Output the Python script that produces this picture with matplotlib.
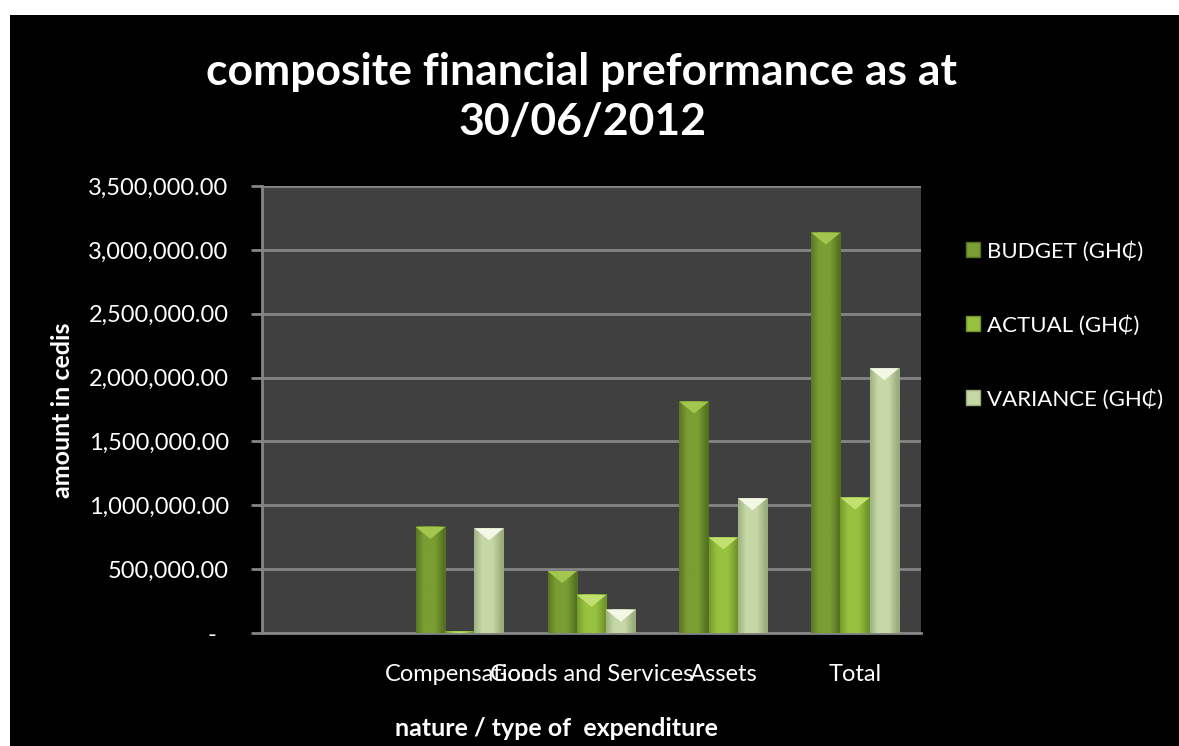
import numpy as np
import matplotlib
matplotlib.use("Agg")
import matplotlib.pyplot as plt
from matplotlib.patches import Rectangle, Polygon, Patch
from matplotlib.ticker import FuncFormatter, MultipleLocator

plt.rcParams['font.family'] = ['Lato', 'DejaVu Sans']

categories = ["", "Compensation", "Goods and Services", "Assets", "Total"]
series = ["BUDGET (GH\u20b5)", "ACTUAL (GH\u20b5)", "VARIANCE (GH\u20b5)"]
budget = [0, 830000, 485000, 1812000, 3135000]
actual = [0, 10000, 298000, 748000, 1060000]
variance = [0, 820000, 182000, 1055000, 2073000]

# base colour, edge colour, bevel highlight
colors = [("#7a9e33", "#55701f", "#a3c64f"),
          ("#97c23f", "#6f9428", "#c2e070"),
          ("#c6d8a6", "#9aab7c", "#f3f8e6")]

W, H = 1179, 746
fig = plt.figure(figsize=(W / 100, H / 100), dpi=100, facecolor="white")
fig.patches.append(Rectangle((10 / W, 0), 1, (H - 15) / H, transform=fig.transFigure,
                             facecolor="black", edgecolor="none", zorder=-5))

ax = fig.add_axes([262 / W, 113 / H, 659 / W, 447 / H])
ax.set_facecolor("#404040")

x = np.arange(len(categories))
w = 1 / 4.5
ymax = 3500000
px = ymax / 447  # data units per pixel vertically

for i, (vals, (base, edge, hi)) in enumerate(zip([budget, actual, variance], colors)):
    bars = ax.bar(x + (i - 1) * w, vals, w, color=base, edgecolor="none", zorder=2)
    b = np.array(matplotlib.colors.to_rgb(base))
    e = np.array(matplotlib.colors.to_rgb(edge))
    t = np.linspace(0, 1, 40)
    prof = np.clip((1 - np.abs(t - 0.45) * 2) * 1.6, 0, 1)
    grad = e[None, :] * (1 - prof[:, None]) + b[None, :] * prof[:, None]
    for r in bars:
        h = r.get_height()
        if h <= 0:
            continue
        x0, x1 = r.get_x(), r.get_x() + r.get_width()
        ax.imshow(grad[None, :, :], extent=[x0, x1, 0, h], aspect="auto",
                  interpolation="bilinear", zorder=3)
        d = min(12 * px, h)
        ax.add_patch(Polygon([(x0, h), (x1, h), ((x0 + x1) / 2, h - d)],
                             closed=True, facecolor=hi, edgecolor="none", zorder=4))

ax.set_xlim(-0.5, len(categories) - 0.5)
ax.set_ylim(0, ymax)
ax.yaxis.set_major_locator(MultipleLocator(500000))
ax.yaxis.set_major_formatter(FuncFormatter(lambda v, p: "-  " if v == 0 else f"{v:,.2f}"))
ax.set_xticks(x)
ax.set_xticklabels(categories)

ax.grid(axis="y", color="#858585", linewidth=2, zorder=1)
ax.set_axisbelow(True)
for s in ["top", "right"]:
    ax.spines[s].set_visible(False)
for s in ["left", "bottom"]:
    ax.spines[s].set_color("#858585")
    ax.spines[s].set_linewidth(2)
ax.tick_params(axis="y", colors="#858585", length=8, width=2, pad=16, labelsize=17,
               labelcolor="white")
ax.tick_params(axis="x", length=0, pad=22, labelsize=17, labelcolor="white")

fig.text(63 / W, 1 - 410 / H, "amount in cedis", rotation=90, ha="center", va="center",
         color="white", fontsize=18, fontweight="bold")
fig.text(556 / W, 1 - 728 / H, "nature / type of  expenditure", ha="center", va="center",
         color="white", fontsize=18, fontweight="bold")
fig.text(582 / W, 1 - 97 / H, "composite financial preformance as at\n30/06/2012",
         ha="center", va="center", color="white", fontsize=32, fontweight="bold",
         linespacing=1.3)

handles = [Patch(facecolor=c[0], edgecolor=c[1]) for c in colors]
fig.legend(handles, series, loc="upper left", bbox_to_anchor=(966 / W, 1 - 241 / H),
           frameon=False, fontsize=16, labelcolor="white", handlelength=0.65,
           handleheight=0.65, handletextpad=0.3, labelspacing=2.4,
           borderpad=0, borderaxespad=0)

fig.savefig("out.png", dpi=100, facecolor=fig.get_facecolor())
